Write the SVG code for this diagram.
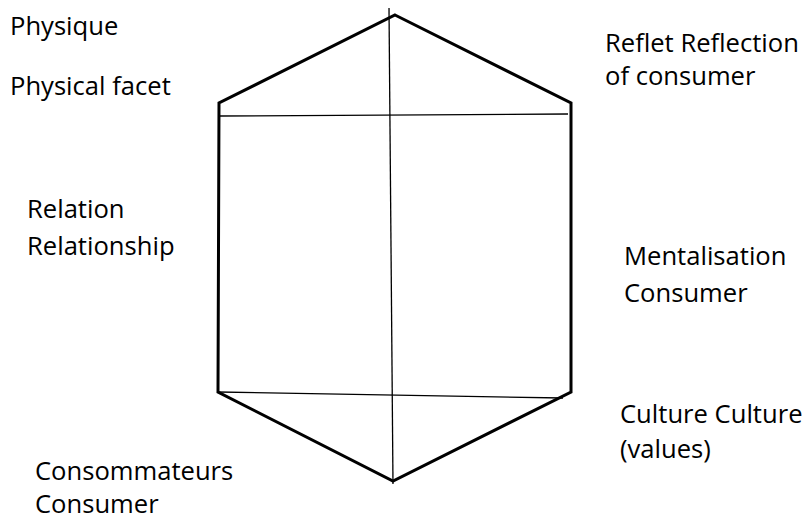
<svg xmlns="http://www.w3.org/2000/svg" width="805" height="520" viewBox="0 0 805 520">
<style>
.lbl{font-family:"Open Sans","Liberation Sans",sans-serif;font-size:25.6px;fill:#000}
.thick{fill:none;stroke:#000;stroke-width:3;stroke-linejoin:miter}
.thin{fill:none;stroke:#000;stroke-width:1.3}
</style>
<rect width="805" height="520" fill="#fff"/>
<g id="prism">
<polygon class="thick" points="395,15 571,103 571,392 393,481 218,392 219,103"/>
</g>
<g id="connectors">
<line class="thin" x1="219" y1="116" x2="568" y2="114"/>
<line class="thin" x1="218" y1="392" x2="563" y2="398"/>
<line class="thin" x1="389" y1="8" x2="393" y2="484"/>
</g>
<g id="physique"><text class="lbl" x="10" y="35">Physique</text><text class="lbl" x="10" y="95">Physical facet</text></g>
<g id="reflet"><text class="lbl" x="605" y="52">Reflet Reflection</text><text class="lbl" x="605" y="85">of consumer</text></g>
<g id="relation"><text class="lbl" x="27" y="218">Relation</text><text class="lbl" x="27" y="255">Relationship</text></g>
<g id="mentalisation"><text class="lbl" x="624" y="265">Mentalisation</text><text class="lbl" x="624" y="302">Consumer</text></g>
<g id="culture"><text class="lbl" x="620" y="423">Culture Culture</text><text class="lbl" x="620" y="458">(values)</text></g>
<g id="consommateurs"><text class="lbl" x="35" y="480">Consommateurs</text><text class="lbl" x="35" y="513">Consumer</text></g>
</svg>
